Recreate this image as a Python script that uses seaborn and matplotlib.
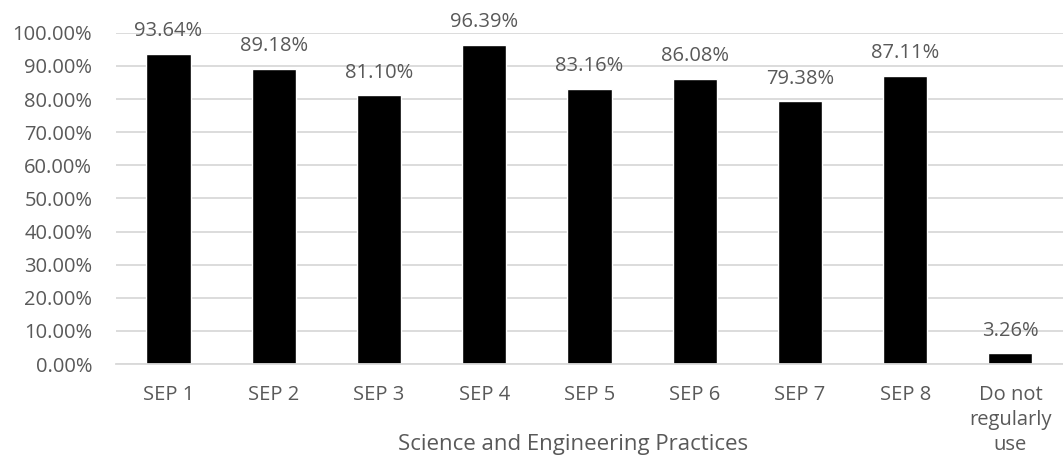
import matplotlib
matplotlib.use("Agg")
import matplotlib.pyplot as plt
import seaborn as sns
from matplotlib.ticker import PercentFormatter

categories = ["SEP 1", "SEP 2", "SEP 3", "SEP 4", "SEP 5", "SEP 6", "SEP 7", "SEP 8",
              "Do not\nregularly\nuse"]
values = [93.64, 89.18, 81.10, 96.39, 83.16, 86.08, 79.38, 87.11, 3.26]
y_ticks = list(range(0, 101, 10))
x_title = "Science and Engineering Practices"

sns.set_theme(style="white")
plt.rcParams["font.family"] = ["Open Sans", "DejaVu Sans"]

text_color = "#595959"
grid_color = "#d9d9d9"
fs = 14.5

fig = plt.figure(figsize=(10.63, 4.62), dpi=100)
ax = fig.add_axes([0.109, 0.212, 0.891, 0.717])

sns.barplot(x=categories, y=values, color="black", width=0.42, saturation=1, ax=ax)

ax.set_ylim(0, 100)
ax.set_yticks(y_ticks)
ax.yaxis.set_major_formatter(PercentFormatter(decimals=2))
ax.set_xlim(-0.5, len(categories) - 0.5)
ax.yaxis.grid(True, color=grid_color, linewidth=1.3)
ax.set_axisbelow(True)
for side in ["top", "right", "left"]:
    ax.spines[side].set_visible(False)
ax.spines["bottom"].set_color(grid_color)
ax.spines["bottom"].set_linewidth(1.3)

ax.tick_params(axis="both", length=0, labelsize=fs, colors=text_color)
ax.tick_params(axis="y", pad=17)
ax.tick_params(axis="x", pad=15)
for lbl in ax.get_xticklabels():
    lbl.set_linespacing(1.35)

ax.set_xlabel("")
ax.set_ylabel("")
fig.text(0.539, 0.037, x_title, fontsize=16, color=text_color,
         ha="center", va="center")

for container in ax.containers:
    ax.bar_label(container, labels=[f"{v:.2f}%" for v in values],
                 padding=9, fontsize=fs, color=text_color)

fig.savefig("out.png", dpi=100)
